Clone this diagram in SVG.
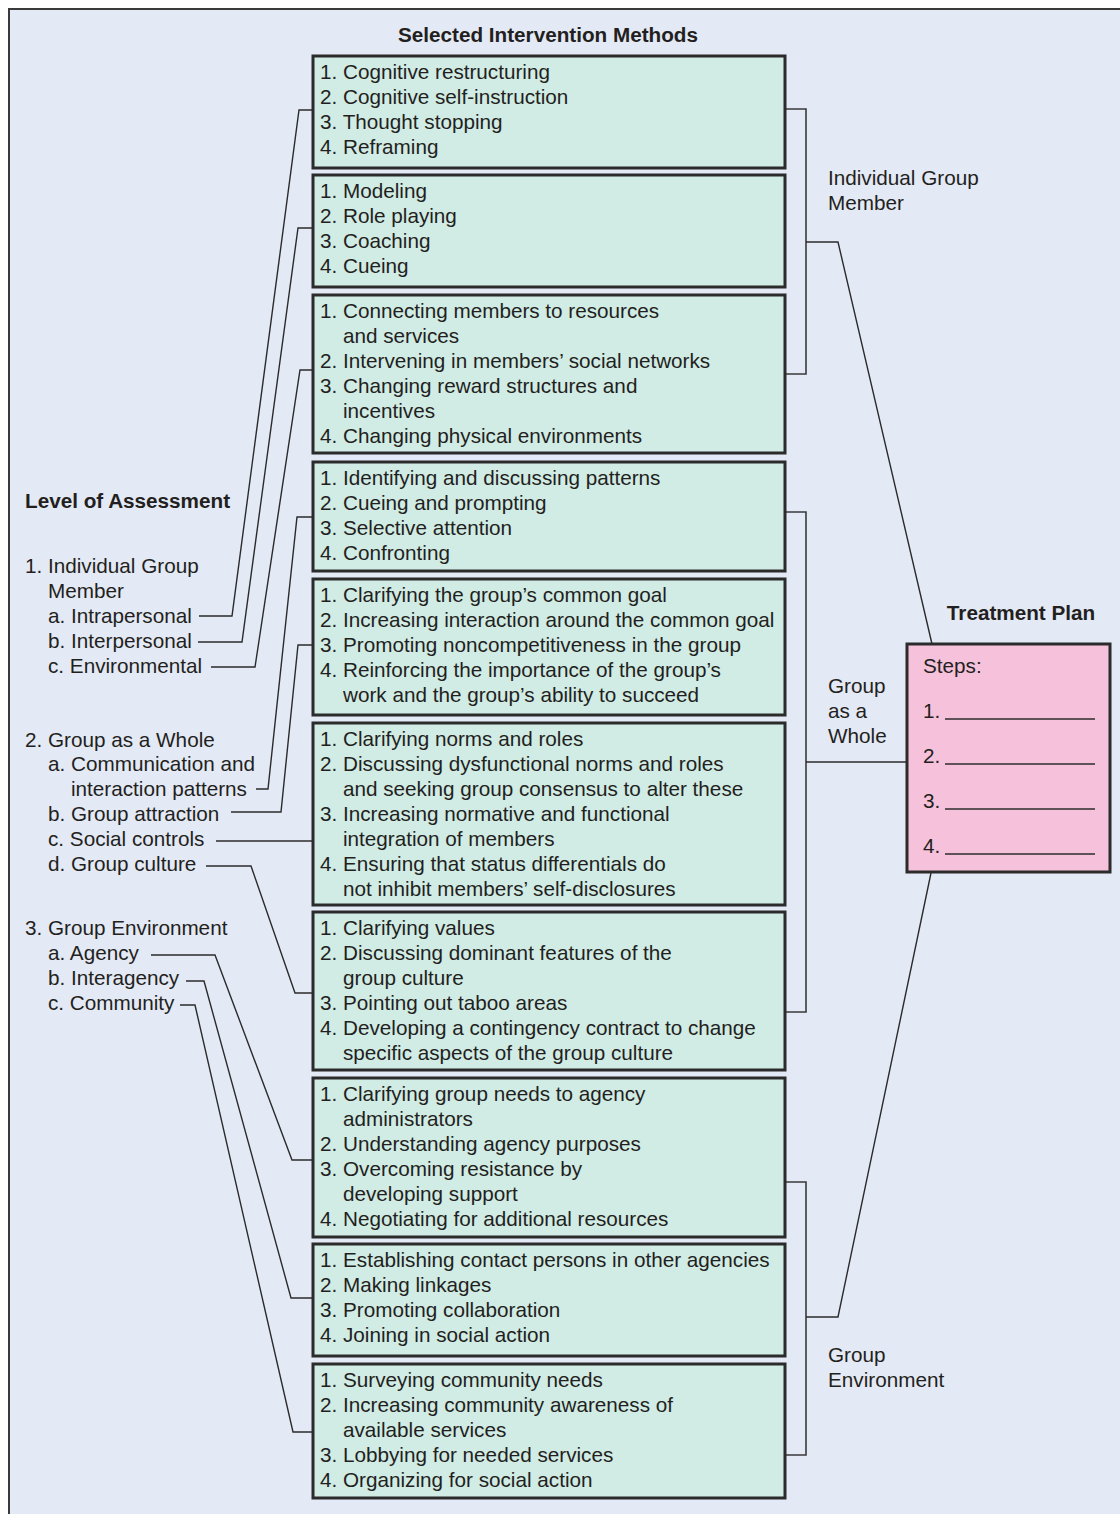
<svg xmlns="http://www.w3.org/2000/svg" width="1120" height="1514" viewBox="0 0 1120 1514">
  <style>
    .t { font-family: "Liberation Sans", Arial, Helvetica, sans-serif; font-size: 20.7px; fill: #231f20; }
    .b { font-weight: bold; }
    .box { fill: #d1ebe5; stroke: #2b2b2b; stroke-width: 3; }
    .plan { fill: #f6c1da; stroke: #2b2b2b; stroke-width: 3; }
    .conn { fill: none; stroke: #2b2b2b; stroke-width: 1.4; }
    .brk { fill: none; stroke: #3a3a3a; stroke-width: 1.6; }
    .blank { stroke: #2b2b2b; stroke-width: 1.6; }
  </style>

  <!-- page background and frame -->
  <rect x="0" y="0" width="1120" height="1514" fill="#ffffff"/>
  <rect x="9" y="9" width="1200" height="1600" fill="#e3e9f5" stroke="#3a3a3a" stroke-width="2"/>

  <!-- column headings -->
  <g id="heading-methods">
    <text class="t b" x="548" y="42" text-anchor="middle">Selected Intervention Methods</text>
  </g>
  <g id="heading-assessment">
    <text class="t b" x="25" y="508">Level of Assessment</text>
  </g>
  <g id="heading-plan">
    <text class="t b" x="1021" y="620" text-anchor="middle">Treatment Plan</text>
  </g>

  <!-- connectors -->
  <g id="connectors">
    <!-- assessment items to method boxes -->
    <polyline class="conn" points="199,616 232,616 299,110 312,110"/>
    <polyline class="conn" points="198,642 242,642 298,228 312,228"/>
    <polyline class="conn" points="211,667 255,667 300,370 312,370"/>
    <polyline class="conn" points="256,789 268,789 297,517 312,517"/>
    <polyline class="conn" points="231,812 281,812 298,645 312,645"/>
    <polyline class="conn" points="216,841 312,841"/>
    <polyline class="conn" points="206,866 251,866 295,993 312,993"/>
    <polyline class="conn" points="151,955 215,955 292,1160 312,1160"/>
    <polyline class="conn" points="186,981 204,981 291,1298 312,1298"/>
    <polyline class="conn" points="180,1005 195,1005 293,1432 312,1432"/>
    <!-- brackets grouping method boxes -->
    <polyline class="brk" points="786,109 806,109 806,374 786,374"/>
    <polyline class="brk" points="786,512 806,512 806,1012 786,1012"/>
    <polyline class="brk" points="786,1182 806,1182 806,1455 786,1455"/>
    <!-- brackets to treatment plan -->
    <polyline class="conn" points="806,242 838,242 932,644"/>
    <polyline class="conn" points="806,762 907,762"/>
    <polyline class="conn" points="806,1317 838,1317 931,873"/>
  </g>

  <!-- level of assessment list -->
  <g id="assessment-individual">
    <text class="t" x="25" y="573">1. Individual Group</text>
    <text class="t" x="48" y="598">Member</text>
    <text class="t" x="48" y="623">a. Intrapersonal</text>
    <text class="t" x="48" y="648">b. Interpersonal</text>
    <text class="t" x="48" y="673">c. Environmental</text>
  </g>
  <g id="assessment-group">
    <text class="t" x="25" y="747">2. Group as a Whole</text>
    <text class="t" x="48" y="771">a. Communication and</text>
    <text class="t" x="71" y="796">interaction patterns</text>
    <text class="t" x="48" y="821">b. Group attraction</text>
    <text class="t" x="48" y="846">c. Social controls</text>
    <text class="t" x="48" y="871">d. Group culture</text>
  </g>
  <g id="assessment-environment">
    <text class="t" x="25" y="935">3. Group Environment</text>
    <text class="t" x="48" y="960">a. Agency</text>
    <text class="t" x="48" y="985">b. Interagency</text>
    <text class="t" x="48" y="1010">c. Community</text>
  </g>

  <!-- intervention method boxes -->
  <g id="methods-intrapersonal">
    <rect class="box" x="313" y="56" width="472" height="112"/>
    <text class="t"><tspan x="320" y="79">1. Cognitive restructuring</tspan><tspan x="320" y="104">2. Cognitive self-instruction</tspan><tspan x="320" y="129">3. Thought stopping</tspan><tspan x="320" y="154">4. Reframing</tspan></text>
  </g>
  <g id="methods-interpersonal">
    <rect class="box" x="313" y="175" width="472" height="112"/>
    <text class="t"><tspan x="320" y="198">1. Modeling</tspan><tspan x="320" y="223">2. Role playing</tspan><tspan x="320" y="248">3. Coaching</tspan><tspan x="320" y="273">4. Cueing</tspan></text>
  </g>
  <g id="methods-environmental">
    <rect class="box" x="313" y="295" width="472" height="158"/>
    <text class="t"><tspan x="320" y="318">1. Connecting members to resources</tspan><tspan x="343" y="343">and services</tspan><tspan x="320" y="368">2. Intervening in members’ social networks</tspan><tspan x="320" y="393">3. Changing reward structures and</tspan><tspan x="343" y="418">incentives</tspan><tspan x="320" y="443">4. Changing physical environments</tspan></text>
  </g>
  <g id="methods-communication">
    <rect class="box" x="313" y="462" width="472" height="109"/>
    <text class="t"><tspan x="320" y="485">1. Identifying and discussing patterns</tspan><tspan x="320" y="510">2. Cueing and prompting</tspan><tspan x="320" y="535">3. Selective attention</tspan><tspan x="320" y="560">4. Confronting</tspan></text>
  </g>
  <g id="methods-attraction">
    <rect class="box" x="313" y="579" width="472" height="136"/>
    <text class="t"><tspan x="320" y="602">1. Clarifying the group’s common goal</tspan><tspan x="320" y="627">2. Increasing interaction around the common goal</tspan><tspan x="320" y="652">3. Promoting noncompetitiveness in the group</tspan><tspan x="320" y="677">4. Reinforcing the importance of the group’s</tspan><tspan x="343" y="702">work and the group’s ability to succeed</tspan></text>
  </g>
  <g id="methods-social-controls">
    <rect class="box" x="313" y="723" width="472" height="182"/>
    <text class="t"><tspan x="320" y="746">1. Clarifying norms and roles</tspan><tspan x="320" y="771">2. Discussing dysfunctional norms and roles</tspan><tspan x="343" y="796">and seeking group consensus to alter these</tspan><tspan x="320" y="821">3. Increasing normative and functional</tspan><tspan x="343" y="846">integration of members</tspan><tspan x="320" y="871">4. Ensuring that status differentials do</tspan><tspan x="343" y="896">not inhibit members’ self-disclosures</tspan></text>
  </g>
  <g id="methods-culture">
    <rect class="box" x="313" y="912" width="472" height="158"/>
    <text class="t"><tspan x="320" y="935">1. Clarifying values</tspan><tspan x="320" y="960">2. Discussing dominant features of the</tspan><tspan x="343" y="985">group culture</tspan><tspan x="320" y="1010">3. Pointing out taboo areas</tspan><tspan x="320" y="1035">4. Developing a contingency contract to change</tspan><tspan x="343" y="1060">specific aspects of the group culture</tspan></text>
  </g>
  <g id="methods-agency">
    <rect class="box" x="313" y="1078" width="472" height="159"/>
    <text class="t"><tspan x="320" y="1101">1. Clarifying group needs to agency</tspan><tspan x="343" y="1126">administrators</tspan><tspan x="320" y="1151">2. Understanding agency purposes</tspan><tspan x="320" y="1176">3. Overcoming resistance by</tspan><tspan x="343" y="1201">developing support</tspan><tspan x="320" y="1226">4. Negotiating for additional resources</tspan></text>
  </g>
  <g id="methods-interagency">
    <rect class="box" x="313" y="1244" width="472" height="112"/>
    <text class="t"><tspan x="320" y="1267">1. Establishing contact persons in other agencies</tspan><tspan x="320" y="1292">2. Making linkages</tspan><tspan x="320" y="1317">3. Promoting collaboration</tspan><tspan x="320" y="1342">4. Joining in social action</tspan></text>
  </g>
  <g id="methods-community">
    <rect class="box" x="313" y="1364" width="472" height="134"/>
    <text class="t"><tspan x="320" y="1387">1. Surveying community needs</tspan><tspan x="320" y="1412">2. Increasing community awareness of</tspan><tspan x="343" y="1437">available services</tspan><tspan x="320" y="1462">3. Lobbying for needed services</tspan><tspan x="320" y="1487">4. Organizing for social action</tspan></text>
  </g>

  <!-- bracket labels -->
  <g id="label-individual">
    <text class="t"><tspan x="828" y="185">Individual Group</tspan><tspan x="828" y="210">Member</tspan></text>
  </g>
  <g id="label-group">
    <text class="t"><tspan x="828" y="693">Group</tspan><tspan x="828" y="718">as a</tspan><tspan x="828" y="743">Whole</tspan></text>
  </g>
  <g id="label-environment">
    <text class="t"><tspan x="828" y="1362">Group</tspan><tspan x="828" y="1387">Environment</tspan></text>
  </g>

  <!-- treatment plan -->
  <g id="treatment-plan">
    <rect class="plan" x="907" y="644" width="203" height="228"/>
    <text class="t" x="923" y="673">Steps:</text>
    <text class="t" x="923" y="718">1.</text>
    <line class="blank" x1="945" y1="719" x2="1095" y2="719"/>
    <text class="t" x="923" y="763">2.</text>
    <line class="blank" x1="945" y1="764" x2="1095" y2="764"/>
    <text class="t" x="923" y="808">3.</text>
    <line class="blank" x1="945" y1="809" x2="1095" y2="809"/>
    <text class="t" x="923" y="853">4.</text>
    <line class="blank" x1="945" y1="854" x2="1095" y2="854"/>
  </g>
</svg>
